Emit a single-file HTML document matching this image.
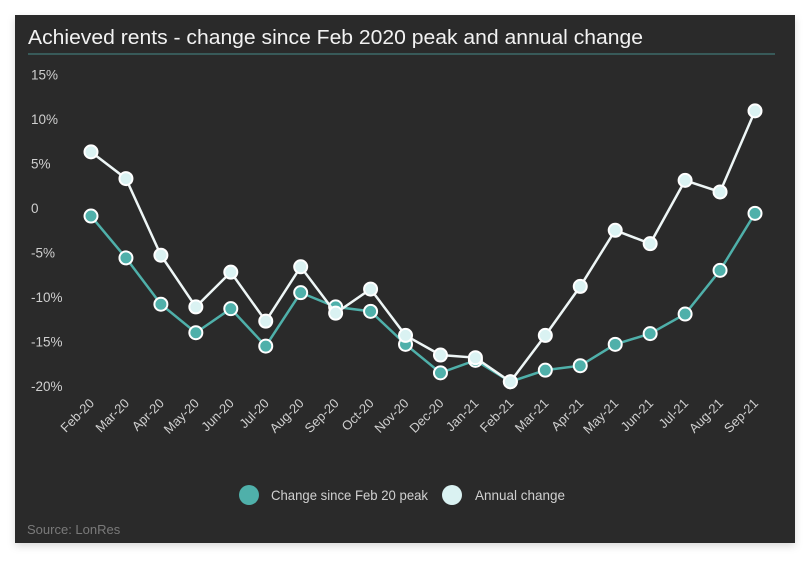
<!DOCTYPE html>
<html><head><meta charset="utf-8"><style>
html,body{margin:0;padding:0;background:#fff;width:807px;height:561px;overflow:hidden}
svg{display:block;font-family:"Liberation Sans",sans-serif}
</style></head><body>
<svg width="807" height="561">
<defs><filter id="sh" x="-5%" y="-5%" width="110%" height="115%"><feDropShadow dx="0" dy="3" stdDeviation="4" flood-color="#000" flood-opacity="0.15"/></filter></defs>
<rect x="15" y="15" width="780" height="528" fill="#2c2c2c" filter="url(#sh)"/>
<text x="28" y="44" fill="#f2f2f2" font-size="20" textLength="615" lengthAdjust="spacingAndGlyphs">Achieved rents - change since Feb 2020 peak and annual change</text>
<line x1="28" y1="54" x2="775" y2="54" stroke="#3d6b69" stroke-width="1.5"/>
<g id="yax"></g>
<g id="xax"></g>
<g id="series"></g>
<g>
<circle cx="249" cy="495" r="10" fill="#4fb0aa"/>
<text x="271" y="500" fill="#d0d0d0" font-size="14" textLength="157" lengthAdjust="spacingAndGlyphs">Change since Feb 20 peak</text>
<circle cx="452" cy="495" r="10" fill="#daf2f2"/>
<text x="475" y="500" fill="#d0d0d0" font-size="14" textLength="90" lengthAdjust="spacingAndGlyphs">Annual change</text>
</g>
<text x="27" y="534" fill="#7a7a7a" font-size="13">Source: LonRes</text>
</svg>
<script>
const categories=["Feb-20","Mar-20","Apr-20","May-20","Jun-20","Jul-20","Aug-20","Sep-20","Oct-20","Nov-20","Dec-20","Jan-21","Feb-21","Mar-21","Apr-21","May-21","Jun-21","Jul-21","Aug-21","Sep-21"];
const changeSincePeak=[-0.9,-5.6,-10.8,-14.0,-11.3,-15.5,-9.5,-11.1,-11.6,-15.3,-18.5,-17.1,-19.5,-18.2,-17.7,-15.3,-14.1,-11.9,-7.0,-0.6];
const annualChange=[6.3,3.3,-5.3,-11.1,-7.2,-12.7,-6.6,-11.8,-9.1,-14.3,-16.5,-16.8,-19.5,-14.3,-8.8,-2.5,-4.0,3.1,1.8,10.9];
const yTicks=[15,10,5,0,-5,-10,-15,-20];
const yTickLabels=["15%","10%","5%","0","-5%","-10%","-15%","-20%"];
const NS="http://www.w3.org/2000/svg";
function x(i){return 91+i*(755-91)/(categories.length-1);}
function y(v){return 208-v*8.91;}
function mk(t,a,p){const e=document.createElementNS(NS,t);for(const k in a)e.setAttribute(k,a[k]);p.appendChild(e);return e;}
const yax=document.getElementById('yax');
yTicks.forEach((v,i)=>{const t=mk('text',{x:31,y:y(v)+5,fill:'#cfcfcf','font-size':13.5},yax);


t.textContent=yTickLabels[i];});
const xax=document.getElementById('xax');
categories.forEach((c,i)=>{const px=x(i)+4,py=404;const t=mk('text',{x:px,y:py,fill:'#cfcfcf','font-size':13,'text-anchor':'end',transform:`rotate(-45 ${px} ${py})`},xax);


t.textContent=c;});
const sg=document.getElementById('series');
function draw(vals,stroke,fill,name){
const g=mk('g',{},sg);


const pl=mk('polyline',{points:vals.map((v,i)=>x(i)+','+y(v)).join(' '),fill:'none',stroke:stroke,'stroke-width':2.5},g);


vals.forEach((v,i)=>{const c=mk('circle',{cx:x(i),cy:y(v),r:6.5,fill:fill,stroke:'#fff','stroke-width':2},g);

});}
draw(changeSincePeak,'#4fb0aa','#4fb0aa','change-since-peak');
draw(annualChange,'#eef6f6','#daf2f2','annual-change');
</script>
</body></html>
